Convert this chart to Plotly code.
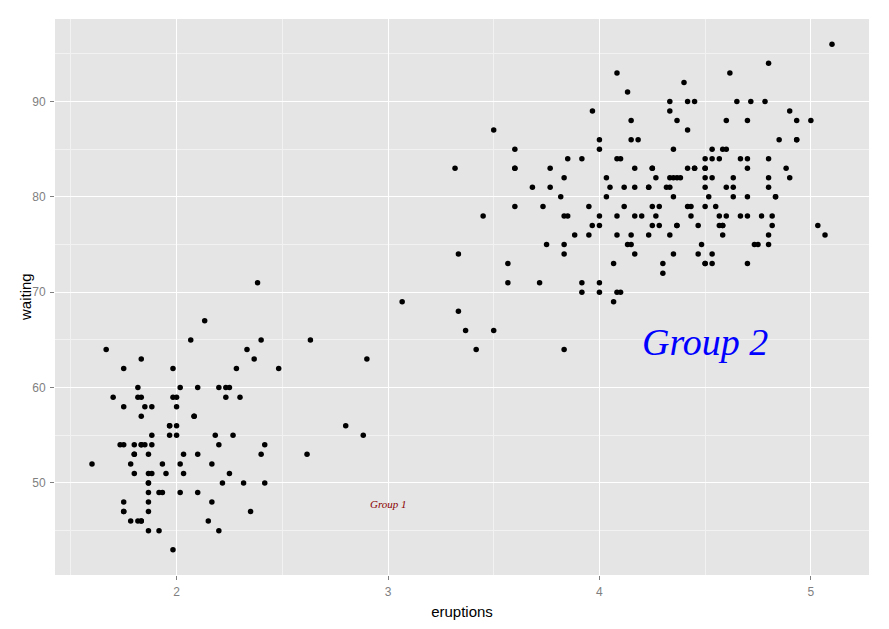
import plotly.graph_objects as go

eruptions = [3.600,1.800,3.333,2.283,4.533,2.883,4.700,3.600,1.950,4.350,1.833,3.917,4.200,1.750,4.700,2.167,1.750,4.800,1.600,4.250,
1.800,1.750,3.450,3.067,4.533,3.600,1.967,4.083,3.850,4.433,4.300,4.467,3.367,4.033,3.833,2.017,1.867,4.833,1.833,4.783,
4.350,1.883,4.567,1.750,4.533,3.317,3.833,2.100,4.633,2.000,4.800,4.716,1.833,4.833,1.733,4.883,3.717,1.667,4.567,4.317,
2.233,4.500,1.750,4.800,1.817,4.400,4.167,4.700,2.067,4.700,4.033,1.967,4.500,4.000,1.983,5.067,2.017,4.567,3.883,3.600,
4.133,4.333,4.100,2.633,4.067,4.933,3.950,4.517,2.167,4.000,2.200,4.333,1.867,4.817,1.833,4.300,4.667,3.750,1.867,4.900,
2.483,4.367,2.100,4.500,4.050,1.867,4.700,1.783,4.850,3.683,4.733,2.300,4.900,4.417,1.700,4.633,2.317,4.600,1.817,4.417,
2.617,4.067,4.250,1.967,4.600,3.767,1.917,4.500,2.267,4.650,1.867,4.167,2.800,4.333,1.833,4.383,1.883,4.933,2.033,3.733,
4.233,2.233,4.533,4.817,4.333,1.983,4.633,2.017,5.100,1.800,5.033,4.000,2.400,4.600,3.567,4.000,4.500,4.083,1.800,3.967,
2.200,4.150,2.000,3.833,3.500,4.583,2.367,5.000,1.933,4.617,1.917,2.083,4.583,3.333,4.167,4.333,4.500,2.417,4.000,4.167,
1.883,4.583,4.250,3.767,2.033,4.433,4.083,1.833,4.417,2.183,4.800,1.833,4.800,4.100,3.966,4.233,3.500,4.366,2.250,4.667,
2.100,4.350,4.133,1.867,4.600,1.783,4.367,3.850,1.933,4.500,2.383,4.700,1.867,3.833,3.417,4.233,2.400,4.800,2.000,4.150,
1.867,4.267,1.750,4.483,4.000,4.117,4.083,4.267,3.917,4.550,4.083,2.417,4.183,2.217,4.450,1.883,1.850,4.283,3.950,2.333,
4.150,2.350,4.933,2.900,4.583,3.833,2.083,4.367,2.133,4.350,2.200,4.450,3.567,4.500,4.150,3.817,3.917,4.450,2.000,4.283,
4.767,4.533,1.850,4.250,1.983,2.250,4.750,4.117,2.150,4.417,1.817,4.467]

waiting = [79,54,74,62,85,55,88,85,51,85,54,84,78,47,83,52,62,84,52,79,
51,47,78,69,74,83,55,76,78,79,73,77,66,80,74,52,48,80,59,90,
80,58,84,58,73,83,64,53,82,59,75,90,54,80,54,83,71,64,77,81,
59,84,48,82,60,92,78,78,65,73,82,56,79,71,62,76,60,78,76,83,
75,82,70,65,73,88,76,80,48,86,60,90,50,78,63,72,84,75,51,82,
62,88,49,83,81,47,84,52,86,81,75,59,89,79,59,81,50,85,59,87,
53,69,77,56,88,81,45,82,55,90,45,83,56,89,46,82,51,86,53,79,
81,60,82,77,76,59,80,49,96,53,77,77,65,81,71,70,81,93,53,89,
45,86,58,78,66,76,63,88,52,93,49,57,77,68,81,81,73,50,85,74,
55,77,83,83,51,78,84,46,83,55,81,57,76,84,77,81,87,77,51,78,
60,82,91,53,78,46,77,84,49,83,71,80,49,75,64,76,53,94,55,76,
50,82,54,75,78,79,78,78,70,79,70,54,86,50,90,54,54,77,79,64,
75,47,86,63,85,82,57,82,67,74,54,83,73,73,88,80,71,83,56,79,
78,84,58,83,43,60,75,81,46,90,46,74]

labels = ["Group 1", "Group 2"]
label_x = [3.0, 4.5]
label_y = [47.8, 64.8]
x_title = "eruptions"
y_title = "waiting"

xmin, xmax = min(eruptions), max(eruptions)
ymin, ymax = min(waiting), max(waiting)
xpad = (xmax - xmin) * 0.05
ypad = (ymax - ymin) * 0.05

fig = go.Figure()
fig.add_trace(go.Scatter(x=eruptions, y=waiting, mode="markers",
                         marker=dict(color="black", size=5.5, symbol="circle"),
                         showlegend=False, hoverinfo="x+y"))

fig.add_annotation(x=label_x[0], y=label_y[0], text="<i>" + labels[0] + "</i>", showarrow=False,
                   font=dict(family="Liberation Serif, Times New Roman, serif", size=11, color="#8B0000"),
                   xanchor="center", yanchor="middle")
fig.add_annotation(x=label_x[1], y=label_y[1], text="<i>" + labels[1] + "</i>", showarrow=False,
                   font=dict(family="Liberation Serif, Times New Roman, serif", size=38, color="blue"),
                   xanchor="center", yanchor="middle")
# y-axis title, placed as ggplot does it
fig.add_annotation(x=0, y=0.5, xref="paper", yref="paper", text=y_title, showarrow=False,
                   textangle=-90, xanchor="center", yanchor="middle", xshift=-30,
                   font=dict(family="Arial, Liberation Sans, sans-serif", size=15, color="black"))

axis_common = dict(showgrid=True, gridcolor="white", gridwidth=1.2, zeroline=False,
                   ticks="outside", ticklen=4, tickcolor="#7F7F7F", tickwidth=1,
                   tickfont=dict(family="Arial, Liberation Sans, sans-serif", size=12, color="#7F7F7F"),
                   showline=False, automargin=False,
                   minor=dict(showgrid=True, gridcolor="#F2F2F2", gridwidth=0.6, ticks=""))

fig.update_xaxes(range=[xmin - xpad, xmax + xpad], dtick=1, tick0=0, ticklabelstandoff=2,
                 title=dict(text=x_title, standoff=8,
                            font=dict(family="Arial, Liberation Sans, sans-serif", size=15, color="black")),
                 **axis_common)
fig.layout.xaxis.minor.dtick = 0.5
fig.update_yaxes(range=[ymin - ypad, ymax + ypad], dtick=10, tick0=0, ticklabelstandoff=2,
                 **axis_common)
fig.layout.yaxis.minor.dtick = 5

# page body has an 8px default margin, so the figure is 8px smaller than the window
fig.update_layout(width=881, height=621,
                  margin=dict(l=47, r=20, t=11, b=54),
                  paper_bgcolor="white", plot_bgcolor="#E5E5E5",
                  showlegend=False)

fig.write_html("out.html")
